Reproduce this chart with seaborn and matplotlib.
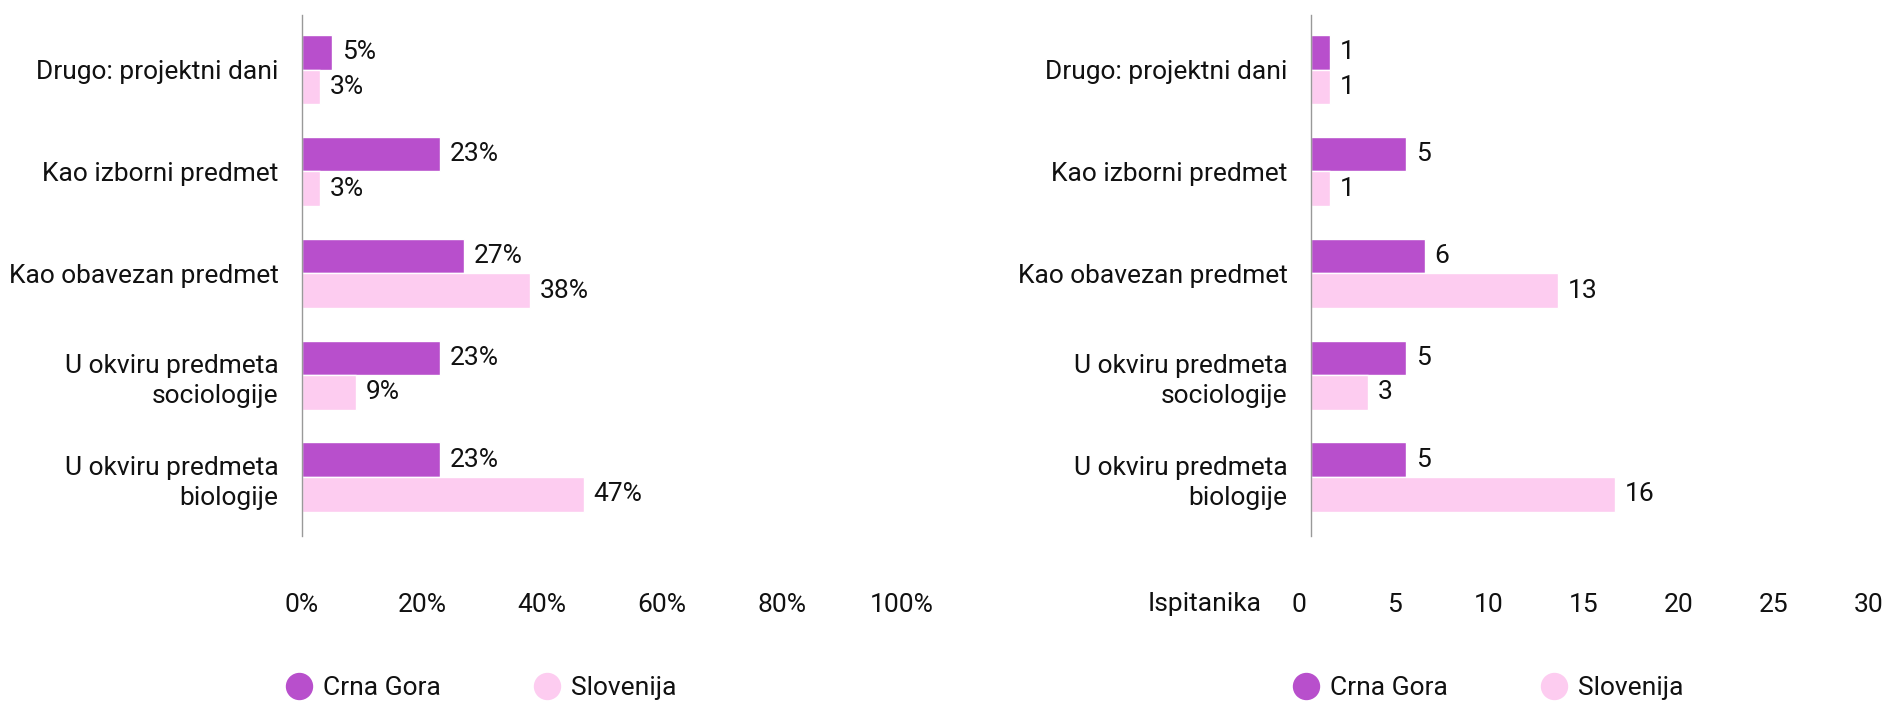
import matplotlib
matplotlib.use("Agg")
import matplotlib.pyplot as plt
import matplotlib.transforms as mtransforms
from matplotlib.lines import Line2D
import seaborn as sns
import pandas as pd

# ==========================================
# 数据
# ==========================================
categories = ["Drugo: projektni dani", "Kao izborni predmet", "Kao obavezan predmet",
              "U okviru predmeta\nsociologije", "U okviru predmeta\nbiologije"]
countries = ["Crna Gora", "Slovenija"]
pct_crna_gora = [5, 23, 27, 23, 23]
pct_slovenija = [3, 3, 38, 9, 47]
n_crna_gora = [1, 5, 6, 5, 5]
n_slovenija = [1, 1, 13, 3, 16]
pct_ticks = [0, 20, 40, 60, 80, 100]
n_ticks = [0, 5, 10, 15, 20, 25, 30]

colors = {"Crna Gora": "#B84FCC", "Slovenija": "#FDCCF0"}
text_color = "#111111"
FS = 19

# ==========================================
# 样式设置
# ==========================================
sns.set_style("white")
plt.rcParams['font.family'] = ['Roboto', 'DejaVu Sans']
plt.rcParams['font.size'] = FS
plt.rcParams['text.color'] = text_color
plt.rcParams['xtick.color'] = text_color
plt.rcParams['ytick.color'] = text_color


def long_form(vals_a, vals_b):
    rows = []
    for c, a, b in zip(categories, vals_a, vals_b):
        rows.append({"cat": c, "country": countries[0], "val": a})
        rows.append({"cat": c, "country": countries[1], "val": b})
    return pd.DataFrame(rows)


df_pct = long_form(pct_crna_gora, pct_slovenija)
df_n = long_form(n_crna_gora, n_slovenija)

W, H = 1888, 705
fig = plt.figure(figsize=(W / 100, H / 100), dpi=100)

ax1 = fig.add_axes([302 / W, 1 - 536 / H, 600 / W, 521 / H])
ax2 = fig.add_axes([1311 / W, 1 - 536 / H, 570 / W, 521 / H])


def draw(ax, df, xmax, ticks, fmt, tick_fmt):
    sns.barplot(data=df, y="cat", x="val", hue="country", palette=colors,
                orient="h", width=0.68, ax=ax, legend=False, saturation=1)
    for cont in ax.containers:
        ax.bar_label(cont, fmt=fmt, padding=7, fontsize=FS, color=text_color)
    ax.set_xlim(0, xmax)
    ax.set_ylim(4.579, -0.536)
    ax.set_xticks(ticks)
    ax.set_xticklabels([tick_fmt.format(t) for t in ticks])
    ax.set_xlabel("")
    ax.set_ylabel("")
    for s in ["top", "right", "bottom"]:
        ax.spines[s].set_visible(False)
    ax.spines["left"].set_color("#999999")
    ax.spines["left"].set_linewidth(1)
    ax.tick_params(axis="x", length=0, pad=41, labelsize=FS)
    ax.tick_params(axis="y", length=0, pad=17, labelsize=FS)
    for lab in ax.get_yticklabels():
        lab.set_linespacing(1.35)


draw(ax1, df_pct, 100, pct_ticks, "%d%%", "{}%")
draw(ax2, df_n, 30, n_ticks, "%d", "{}")

# 右图刻度标签整体左移
shift = mtransforms.ScaledTranslation(-12 / 100, 0, fig.dpi_scale_trans)
for lab in ax2.get_xticklabels():
    lab.set_transform(lab.get_transform() + shift)

fig.text(1262 / W, 1 - 604 / H, "Ispitanika", ha="right", va="center", fontsize=FS)

# 图例
handles = [Line2D([], [], marker="o", linestyle="none", markersize=18.7,
                  markerfacecolor=colors[c], markeredgecolor=colors[c], label=c)
           for c in countries]
for x0 in [287 / W, 1294 / W]:
    fig.legend(handles=handles, loc="center left", bbox_to_anchor=(x0, 1 - 688 / H),
               ncol=2, frameon=False, borderpad=0, borderaxespad=0,
               handlelength=0.9, handletextpad=0.45, columnspacing=3.6, fontsize=FS)

fig.savefig("out.png", dpi=100)
